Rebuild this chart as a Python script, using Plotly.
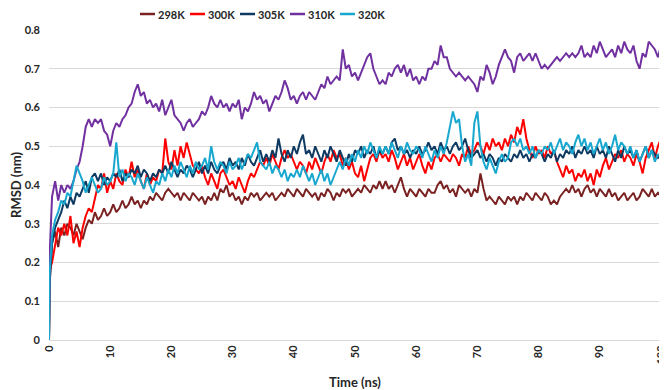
import plotly.graph_objects as go

# sampling times (ns): t=0, t=0.1, then every 0.5 ns up to 100
time_ns = [0.0, 0.1] + [round(0.5 * i, 1) for i in range(1, 201)]

series_names = ["298K", "300K", "305K", "310K", "320K"]
series_colors = ["#7A2222", "#FF0000", "#0E3A62", "#7030A0", "#18A7CE"]

rmsd_298K = [0.0, 0.14,
    0.25, 0.28, 0.24, 0.29, 0.27, 0.30, 0.29, 0.27, 0.30, 0.28,
    0.26, 0.29, 0.31, 0.30, 0.33, 0.31, 0.32, 0.34, 0.32, 0.33,
    0.35, 0.33, 0.34, 0.36, 0.34, 0.35, 0.37, 0.35, 0.36, 0.34,
    0.36, 0.35, 0.37, 0.36, 0.38, 0.37, 0.36, 0.38, 0.39, 0.38,
    0.37, 0.38, 0.36, 0.38, 0.37, 0.36, 0.38, 0.37, 0.36, 0.37,
    0.35, 0.37, 0.36, 0.38, 0.36, 0.39, 0.38, 0.40, 0.37, 0.38,
    0.36, 0.37, 0.35, 0.37, 0.36, 0.38, 0.37, 0.38, 0.36, 0.37,
    0.38, 0.37, 0.38, 0.36, 0.37, 0.38, 0.37, 0.39, 0.38, 0.37,
    0.39, 0.38, 0.37, 0.39, 0.38, 0.37, 0.38, 0.36, 0.38, 0.37,
    0.39, 0.38, 0.36, 0.38, 0.37, 0.39, 0.38, 0.39, 0.37, 0.38,
    0.39, 0.38, 0.40, 0.39, 0.38, 0.40, 0.39, 0.41, 0.39, 0.41,
    0.39, 0.40, 0.38, 0.40, 0.42, 0.39, 0.37, 0.39, 0.38, 0.37,
    0.39, 0.38, 0.37, 0.39, 0.38, 0.38, 0.40, 0.41, 0.39, 0.40,
    0.38, 0.39, 0.37, 0.40, 0.39, 0.38, 0.39, 0.37, 0.39, 0.38,
    0.43, 0.39, 0.36, 0.37, 0.36, 0.35, 0.37, 0.36, 0.35, 0.37,
    0.36, 0.37, 0.35, 0.37, 0.36, 0.38, 0.37, 0.36, 0.38, 0.37,
    0.36, 0.38, 0.37, 0.35, 0.36, 0.35, 0.37, 0.38, 0.39, 0.38,
    0.40, 0.38, 0.39, 0.37, 0.39, 0.40, 0.38, 0.39, 0.37, 0.39,
    0.38, 0.37, 0.39, 0.37, 0.38, 0.36, 0.37, 0.38, 0.36, 0.37,
    0.38, 0.36, 0.37, 0.39, 0.38, 0.37, 0.39, 0.37, 0.38, 0.37]

rmsd_300K = [0.0, 0.18,
    0.20, 0.25, 0.29, 0.27, 0.30, 0.27, 0.32, 0.25, 0.28, 0.24,
    0.29, 0.32, 0.34, 0.33, 0.37, 0.40, 0.39, 0.43, 0.38, 0.41,
    0.39, 0.43, 0.41, 0.40, 0.44, 0.42, 0.46, 0.42, 0.44, 0.41,
    0.39, 0.43, 0.40, 0.42, 0.41, 0.44, 0.43, 0.52, 0.46, 0.44,
    0.49, 0.45, 0.50, 0.47, 0.51, 0.48, 0.45, 0.44, 0.43, 0.45,
    0.42, 0.40, 0.43, 0.41, 0.39, 0.43, 0.44, 0.42, 0.40, 0.41,
    0.39, 0.42, 0.40, 0.38, 0.41, 0.43, 0.42, 0.44, 0.46, 0.45,
    0.47, 0.45, 0.48, 0.46, 0.44, 0.47, 0.49, 0.47, 0.48, 0.46,
    0.44, 0.46, 0.45, 0.43, 0.46, 0.44, 0.47, 0.45, 0.43, 0.46,
    0.48, 0.46, 0.49, 0.47, 0.48, 0.45, 0.47, 0.44, 0.46, 0.43,
    0.42, 0.45, 0.41, 0.44, 0.47, 0.48, 0.46, 0.49, 0.47, 0.48,
    0.46, 0.49, 0.47, 0.44, 0.46, 0.48, 0.45, 0.47, 0.44, 0.46,
    0.48, 0.45, 0.43, 0.46, 0.44, 0.47, 0.48, 0.46, 0.48, 0.47,
    0.46, 0.48, 0.47, 0.45, 0.48, 0.47, 0.50, 0.48, 0.49, 0.51,
    0.50, 0.48, 0.51, 0.49, 0.52, 0.50, 0.51, 0.49, 0.52, 0.50,
    0.53, 0.51, 0.55, 0.53, 0.57, 0.52, 0.49, 0.47, 0.50, 0.48,
    0.49, 0.47, 0.50, 0.48, 0.49, 0.46, 0.44, 0.42, 0.45, 0.43,
    0.44, 0.41, 0.43, 0.42, 0.44, 0.41, 0.43, 0.40, 0.44, 0.42,
    0.45, 0.47, 0.44, 0.46, 0.48, 0.47, 0.49, 0.46, 0.48, 0.47,
    0.45, 0.48, 0.46, 0.43, 0.47, 0.49, 0.51, 0.47, 0.50, 0.52]

rmsd_305K = [0.0, 0.15,
    0.25, 0.29, 0.31, 0.33, 0.36, 0.34, 0.37, 0.35, 0.38, 0.37,
    0.39, 0.41, 0.38, 0.42, 0.43, 0.41, 0.43, 0.40, 0.42, 0.41,
    0.43, 0.42, 0.44, 0.41, 0.43, 0.42, 0.44, 0.43, 0.45, 0.42,
    0.44, 0.43, 0.41, 0.43, 0.42, 0.44, 0.43, 0.45, 0.43, 0.46,
    0.44, 0.42, 0.44, 0.43, 0.45, 0.44, 0.42, 0.44, 0.46, 0.43,
    0.45, 0.43, 0.46, 0.44, 0.43, 0.45, 0.46, 0.44, 0.47, 0.45,
    0.46, 0.44, 0.47, 0.45, 0.48, 0.46, 0.45, 0.47, 0.49, 0.46,
    0.48, 0.46, 0.49, 0.47, 0.52, 0.48, 0.46, 0.49, 0.47, 0.50,
    0.48, 0.51, 0.53, 0.48, 0.49, 0.47, 0.50, 0.48, 0.46, 0.49,
    0.47, 0.50, 0.48, 0.46, 0.49, 0.47, 0.45, 0.48, 0.46, 0.49,
    0.48, 0.50, 0.47, 0.49, 0.48, 0.50, 0.47, 0.49, 0.48, 0.50,
    0.48, 0.51, 0.52, 0.49, 0.50, 0.48, 0.49, 0.47, 0.49, 0.48,
    0.50, 0.48, 0.49, 0.51, 0.49, 0.50, 0.48, 0.51, 0.49, 0.50,
    0.48, 0.50, 0.51, 0.49, 0.50, 0.52, 0.49, 0.47, 0.48, 0.49,
    0.47, 0.48, 0.46, 0.48, 0.47, 0.45, 0.47, 0.46, 0.48, 0.47,
    0.46, 0.48, 0.47, 0.49, 0.47, 0.48, 0.46, 0.48, 0.47, 0.49,
    0.48, 0.46, 0.48, 0.47, 0.49, 0.46, 0.48, 0.47, 0.49, 0.48,
    0.50, 0.47, 0.49, 0.48, 0.50, 0.48, 0.49, 0.47, 0.50, 0.48,
    0.49, 0.47, 0.50, 0.48, 0.46, 0.49, 0.47, 0.50, 0.48, 0.49,
    0.47, 0.49, 0.46, 0.48, 0.50, 0.47, 0.49, 0.48, 0.47, 0.48]

rmsd_310K = [0.0, 0.22,
    0.37, 0.41, 0.36, 0.40, 0.38, 0.40, 0.39, 0.41, 0.44, 0.46,
    0.50, 0.55, 0.57, 0.55, 0.57, 0.56, 0.57, 0.54, 0.53, 0.50,
    0.54, 0.56, 0.55, 0.57, 0.58, 0.60, 0.61, 0.64, 0.66, 0.63,
    0.64, 0.61, 0.62, 0.60, 0.61, 0.59, 0.62, 0.58, 0.60, 0.62,
    0.58, 0.57, 0.56, 0.54, 0.56, 0.57, 0.55, 0.56, 0.57, 0.59,
    0.58, 0.60, 0.63, 0.61, 0.60, 0.62, 0.60, 0.61, 0.59, 0.61,
    0.60, 0.62, 0.57, 0.60, 0.59, 0.61, 0.64, 0.62, 0.63, 0.61,
    0.62, 0.59, 0.61, 0.63, 0.62, 0.64, 0.67, 0.65, 0.62, 0.63,
    0.61, 0.63, 0.64, 0.62, 0.64, 0.63, 0.62, 0.64, 0.66, 0.65,
    0.68, 0.66, 0.67, 0.68, 0.67, 0.75, 0.70, 0.71, 0.68, 0.69,
    0.67, 0.69, 0.71, 0.73, 0.74, 0.70, 0.68, 0.66, 0.67, 0.66,
    0.69, 0.68, 0.70, 0.71, 0.69, 0.71, 0.68, 0.70, 0.67, 0.68,
    0.66, 0.68, 0.67, 0.70, 0.70, 0.72, 0.71, 0.76, 0.73, 0.73,
    0.70, 0.69, 0.68, 0.69, 0.68, 0.67, 0.68, 0.67, 0.66, 0.64,
    0.68, 0.67, 0.71, 0.69, 0.66, 0.68, 0.71, 0.73, 0.75, 0.73,
    0.72, 0.69, 0.73, 0.74, 0.72, 0.73, 0.74, 0.72, 0.74, 0.72,
    0.70, 0.71, 0.70, 0.71, 0.72, 0.73, 0.72, 0.73, 0.74, 0.73,
    0.74, 0.73, 0.74, 0.76, 0.73, 0.74, 0.73, 0.76, 0.74, 0.77,
    0.75, 0.73, 0.74, 0.75, 0.73, 0.76, 0.74, 0.77, 0.75, 0.74,
    0.76, 0.72, 0.70, 0.74, 0.73, 0.77, 0.76, 0.75, 0.73, 0.76]

rmsd_320K = [0.0, 0.17,
    0.27, 0.31, 0.33, 0.36, 0.35, 0.38, 0.37, 0.41, 0.45, 0.43,
    0.41, 0.38, 0.40, 0.42, 0.40, 0.38, 0.39, 0.42, 0.40, 0.41,
    0.43, 0.51, 0.42, 0.44, 0.41, 0.43, 0.42, 0.40, 0.43, 0.41,
    0.39, 0.42, 0.40, 0.38, 0.41, 0.40, 0.43, 0.41, 0.44, 0.42,
    0.45, 0.43, 0.46, 0.44, 0.42, 0.45, 0.43, 0.46, 0.44, 0.45,
    0.47, 0.44, 0.50, 0.46, 0.44, 0.46, 0.45, 0.43, 0.46, 0.44,
    0.45, 0.47, 0.44, 0.46, 0.48, 0.47, 0.49, 0.51, 0.46, 0.45,
    0.44, 0.46, 0.43, 0.45, 0.44, 0.42, 0.44, 0.41, 0.43, 0.42,
    0.44, 0.42, 0.45, 0.43, 0.41, 0.43, 0.40, 0.42, 0.44, 0.41,
    0.43, 0.40, 0.42, 0.44, 0.46, 0.44, 0.47, 0.45, 0.48, 0.46,
    0.49, 0.47, 0.50, 0.48, 0.51, 0.49, 0.47, 0.50, 0.48, 0.50,
    0.48, 0.51, 0.49, 0.47, 0.50, 0.48, 0.51, 0.49, 0.48, 0.50,
    0.49, 0.47, 0.50, 0.48, 0.46, 0.49, 0.47, 0.50, 0.48, 0.51,
    0.55, 0.59, 0.56, 0.57, 0.50, 0.46, 0.48, 0.45, 0.56, 0.59,
    0.50, 0.46, 0.44, 0.47, 0.45, 0.43, 0.46, 0.48, 0.46, 0.47,
    0.51, 0.52, 0.50, 0.52, 0.49, 0.50, 0.48, 0.50, 0.47, 0.49,
    0.48, 0.50, 0.49, 0.51, 0.48, 0.50, 0.52, 0.49, 0.51, 0.50,
    0.48, 0.51, 0.53, 0.50, 0.52, 0.49, 0.51, 0.48, 0.50, 0.52,
    0.49, 0.51, 0.48, 0.50, 0.53, 0.49, 0.51, 0.50, 0.48, 0.50,
    0.47, 0.49, 0.46, 0.48, 0.50, 0.47, 0.49, 0.46, 0.48, 0.47]

y_tick_values = [0, 0.1, 0.2, 0.3, 0.4, 0.5, 0.6, 0.7, 0.8]
y_tick_labels = ["0", "0.1", "0.2", "0.3", "0.4", "0.5", "0.6", "0.7", "0.8"]

all_series = [rmsd_298K, rmsd_300K, rmsd_305K, rmsd_310K, rmsd_320K]

FONT = "Lato, 'Open Sans', sans-serif"
TEXT_COLOR = "#262626"

# The page body has an 8px default margin, so the figure is drawn 8px in from
# the top-left corner of the window; size and margins compensate for that.
OFF = 8
W, H = 667 - OFF, 390 - OFF
L, R, T, B = 49 - OFF, 6, 30 - OFF, 50
PW, PH = W - L - R, H - T - B

fig = go.Figure()
for name, color, values in zip(series_names, series_colors, all_series):
    fig.add_trace(go.Scatter(
        x=time_ns, y=values, mode="lines", name=name,
        line=dict(color=color, width=2), showlegend=False,
    ))

# compact legend at the top (line key + label), like the reference
legend_start_px, legend_step_px, key_len_px, legend_y_px = 140 - OFF, 50, 15, 14 - OFF
for i, (name, color) in enumerate(zip(series_names, series_colors)):
    x0 = legend_start_px + i * legend_step_px
    ly = (H - B - legend_y_px) / PH
    fig.add_shape(type="line", xref="paper", yref="paper",
                  x0=(x0 - L) / PW, x1=(x0 + key_len_px - L) / PW, y0=ly, y1=ly,
                  line=dict(color=color, width=2.5))
    fig.add_annotation(xref="paper", yref="paper",
                       x=(x0 + key_len_px + 2 - L) / PW, y=ly, borderpad=0,
                       text=name, showarrow=False, xanchor="left", yanchor="middle",
                       font=dict(size=11, family=FONT, color=TEXT_COLOR, weight="bold"))

fig.update_layout(
    width=W, height=H,
    margin=dict(l=L, r=R, t=T, b=B, autoexpand=False),
    paper_bgcolor="white", plot_bgcolor="white",
    font=dict(family=FONT, color=TEXT_COLOR, size=11, weight="bold"),
    showlegend=False,
    xaxis=dict(
        range=[0, 100], tick0=0, dtick=10, tickangle=-90,
        showgrid=False, zeroline=False, automargin=False,
        showline=True, linecolor="#d9d9d9", linewidth=1, ticks="",
        tickfont=dict(size=11, family=FONT, color=TEXT_COLOR, weight="bold"),
        title=dict(text="Time (ns)", font=dict(size=13, family=FONT, weight="bold", color=TEXT_COLOR)),
    ),
    yaxis=dict(
        range=[0, 0.8], tickmode="array", tickvals=y_tick_values,
        ticktext=y_tick_labels, automargin=False,
        showgrid=True, gridcolor="#d9d9d9", gridwidth=1, zeroline=False,
        showline=False, ticks="", ticklabelstandoff=8,
        tickfont=dict(size=11, family=FONT, weight="bold", color=TEXT_COLOR),
        title=dict(text="RMSD (nm)", font=dict(size=13, family=FONT, weight="bold", color=TEXT_COLOR)),
    ),
)

fig.write_html("out.html")
